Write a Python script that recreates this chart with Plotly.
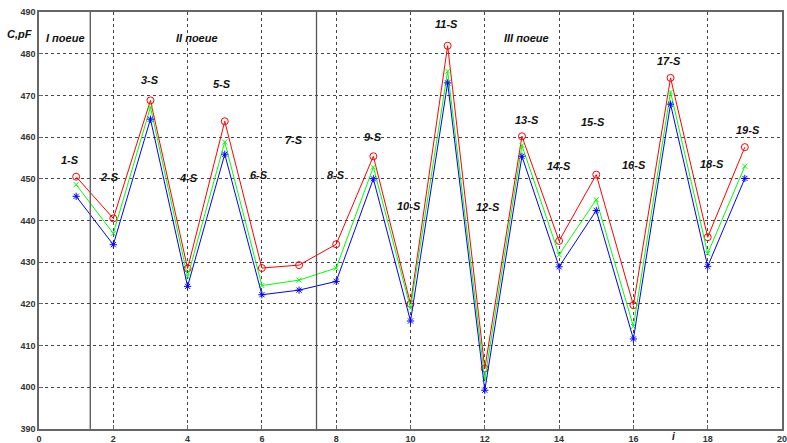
import plotly.graph_objects as go

i_vals = list(range(1, 20))
c_red = [450.5, 440.5, 468.8, 428.5, 463.8, 428.6, 429.3, 434.3, 455.4, 420.0,
         481.9, 404.5, 460.2, 435.1, 451.0, 419.7, 474.2, 436.0, 457.6]
c_green = [448.6, 436.9, 467.2, 426.5, 458.8, 424.4, 425.7, 428.6, 452.8, 419.0,
           475.8, 402.0, 458.0, 431.8, 445.0, 414.6, 470.8, 432.1, 453.0]
c_blue = [445.8, 434.2, 464.3, 424.2, 455.9, 422.2, 423.3, 425.4, 450.0, 415.9,
          473.0, 399.3, 455.4, 428.9, 442.4, 411.6, 467.9, 429.0, 450.1]

point_labels = [f"{k}-S" for k in range(1, 20)]
label_x = [0.84, 1.9, 2.99, 4.02, 4.92, 5.93, 6.87, 7.99, 8.98, 9.96,
           10.97, 12.09, 13.13, 13.99, 14.91, 16.01, 16.97, 18.12, 19.09]
label_y = [454.6, 450.4, 473.6, 450.3, 472.8, 450.8, 459.4, 450.8, 460.0, 443.5,
           487.2, 443.2, 464.0, 453.0, 463.6, 453.2, 478.2, 453.6, 461.6]

zone_labels = ["I поеие", "II поеие", "III поеие"]
zone_x = [0.71, 4.25, 13.12]
zone_y = [483.8, 483.8, 483.8]
zone_bounds = [1.38, 7.47]

x_ticks = list(range(0, 21, 2))
y_ticks = list(range(390, 491, 10))

fig = go.Figure()
fig.add_trace(go.Scatter(x=i_vals, y=c_red, mode="lines+markers",
                         line=dict(color="#ff0000", width=1),
                         marker=dict(symbol="circle-open", size=7, color="#ff0000", line=dict(width=1))))
fig.add_trace(go.Scatter(x=i_vals, y=c_green, mode="lines+markers",
                         line=dict(color="#00ff00", width=1),
                         marker=dict(symbol="x-thin-open", size=5, color="#00ff00", line=dict(width=1, color="#00ff00"))))
fig.add_trace(go.Scatter(x=i_vals, y=c_blue, mode="lines+markers",
                         line=dict(color="#0000ff", width=1),
                         marker=dict(symbol="asterisk-open", size=6, color="#0000ff", line=dict(width=1, color="#0000ff"))))

for xb in zone_bounds:
    fig.add_shape(type="line", x0=xb, x1=xb, y0=390, y1=490, xref="x", yref="y",
                  line=dict(color="#555555", width=1.3))

for t, xx, yy in zip(point_labels, label_x, label_y):
    fig.add_annotation(x=xx, y=yy, text=f"<b><i>{t}</i></b>", showarrow=False,
                       font=dict(family="Liberation Sans, Arial", size=11, color="#111111"))
for t, xx, yy in zip(zone_labels, zone_x, zone_y):
    fig.add_annotation(x=xx, y=yy, text=f"<b><i>{t}</i></b>", showarrow=False,
                       font=dict(family="Liberation Sans, Arial", size=11, color="#111111"))

fig.add_annotation(x=-0.046, y=0.948, xref="paper", yref="paper", text="<b><i>C,pF</i></b>",
                   showarrow=False, xanchor="left", yanchor="middle",
                   font=dict(family="Liberation Sans, Arial", size=11, color="#111111"))
fig.add_annotation(x=0.859, y=-0.019, xref="paper", yref="paper", text="<b><i>i</i></b>",
                   showarrow=False, yanchor="middle",
                   font=dict(family="Liberation Sans, Arial", size=10, color="#111111"))

axis_common = dict(showline=True, linecolor="#666666", linewidth=1.5, mirror=True,
                   ticks="inside", ticklen=4, tickcolor="#666666",
                   showgrid=True, gridcolor="#444444", griddash="dot", gridwidth=1,
                   zeroline=False, automargin=False, ticklabeloverflow="allow",
                   tickfont=dict(family="Liberation Sans, Arial", size=9, color="#333333"))

fig.update_xaxes(range=[0, 20], tickvals=x_ticks, ticktext=[f"<b>{v}</b>" for v in x_ticks], **axis_common)
fig.update_yaxes(range=[390, 490], tickvals=y_ticks, ticktext=[f"<b>{v}</b>" for v in y_ticks], **axis_common)

fig.update_layout(width=787, height=443, margin=dict(l=39, r=5, t=12, b=14),
                  plot_bgcolor="white", paper_bgcolor="white", showlegend=False)

fig.write_html("out.html")
